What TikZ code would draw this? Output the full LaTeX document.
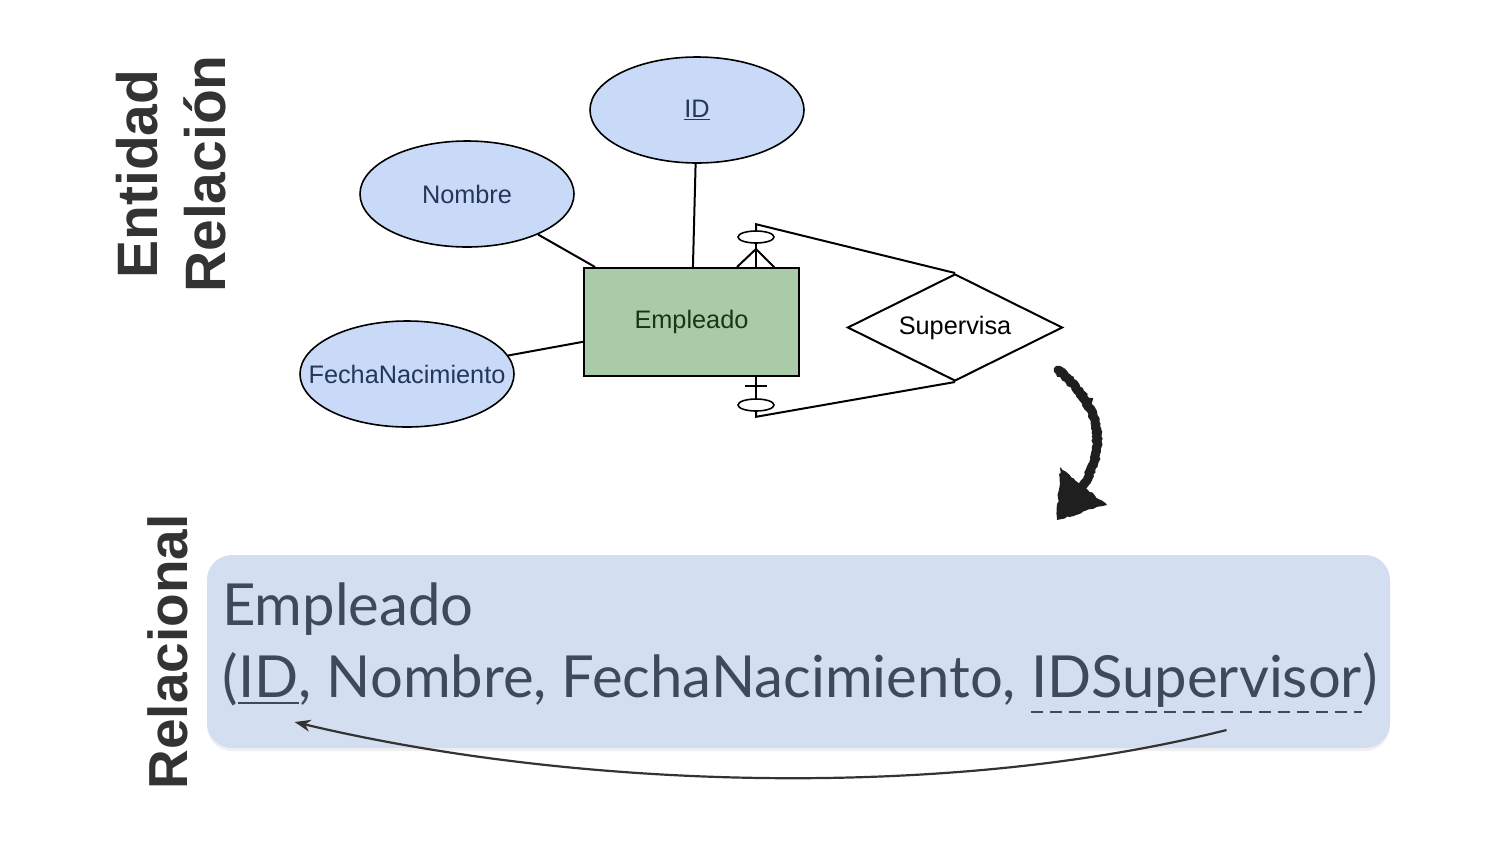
\documentclass[tikz,border=0pt]{standalone}
\usepackage{fontspec}
\setmainfont{Liberation Sans}
\newfontfamily\relfont{Lato}
\usetikzlibrary{positioning,shapes.geometric,arrows.meta,shadows,decorations.pathmorphing}
\definecolor{attrfill}{HTML}{C9DAF8}
\definecolor{attrtext}{HTML}{24365A}
\definecolor{entfill}{HTML}{AACBA7}
\definecolor{enttext}{HTML}{1A351A}
\definecolor{boxfill}{HTML}{D3DEF0}
\definecolor{boxtext}{HTML}{3D4A5C}
\definecolor{titlegray}{HTML}{333333}
\begin{document}
\begin{tikzpicture}[x=1pt,y=-1pt,
  title/.style={rotate=90, text=titlegray, inner sep=0pt, font=\fontsize{57}{60}\selectfont\bfseries},
  attr/.style={ellipse, draw, line width=1.6pt, fill=attrfill, text=attrtext,
    minimum width=214pt, minimum height=106pt, font=\fontsize{25.3}{30}\selectfont},
  opt/.style={ellipse, draw, line width=1.6pt, fill=white, minimum width=36pt,
    minimum height=12pt, inner sep=0pt},
  erline/.style={line width=2pt},
  reltext/.style={text=boxtext, inner sep=0pt, font=\relfont\fontsize{58}{70}\selectfont}]
\useasboundingbox (0,0) rectangle (1493,844);

% titles
\node[title] (er1) at (137,174) {Entidad};
\node[title] (er2) at (205,174) {Relación};
\node[title, font=\fontsize{55}{60}\selectfont\bfseries] (rel) at (168,652) {Relacional};

% diagrama ER
\node[attr] (id) at (697,110) {\underline{ID}};
\node[attr] (nombre) at (467,194) {Nombre};
\node[attr] (fecha) at (407,374) {\makebox[0pt]{FechaNacimiento}};
\node[draw, line width=2pt, fill=entfill, text=enttext, minimum width=215pt,
  minimum height=108pt, font=\fontsize{25.3}{30}\selectfont] (empleado) at (691.5,322) {Empleado};
\node[diamond, draw, line width=2pt, fill=white, aspect=2, inner sep=0pt,
  minimum width=215pt, minimum height=107pt, font=\fontsize{25.3}{30}\selectfont] (supervisa) at (955,327.5) {Supervisa};

\draw[erline] (nombre) -- (empleado);
\draw[erline] (id) -- (empleado);
\draw[erline] (fecha) -- (empleado);

\coordinate (crow) at (756,249);
\coordinate (bar) at (756,386);
\node[opt] (optop) at (756,237) {};
\node[opt] (opbot) at (756,405) {};
\draw[erline] (optop) -- (optop |- empleado.north);
\draw[erline] (optop |- empleado.north) ++(-19,0) -- (crow) -- ++(19,19);
\draw[erline] (optop.north) -- ++(0,-6) -- (supervisa.north);
\draw[erline] (opbot) -- (opbot |- empleado.south);
\draw[erline] ([xshift=-11pt]bar) -- ([xshift=11pt]bar);
\draw[erline] (opbot.south) -- ++(0,5) -- (supervisa.south);

% flecha a mano
\coordinate (hs) at (1058,370);
\coordinate (he) at (1083,486);
\draw[line width=9pt, black!88, line cap=round, decorate,
  decoration={random steps, segment length=2pt, amplitude=1pt}]
  (hs) .. controls (1100,405) and (1108,445) .. (he);
\fill[black!88, decorate, decoration={random steps, segment length=3pt, amplitude=1.2pt}]
  (1060,467) -- (1107,505) -- (1057,520) -- cycle;

% modelo relacional
\node[fill=boxfill, rounded corners=25pt, minimum width=1183pt, minimum height=193pt,
  drop shadow={opacity=0.12, shadow xshift=0pt, shadow yshift=-3pt}] (relbox) at (798.5,651.5) {};
\node[reltext, anchor=base west] (tabla) at (222,625) {Empleado};
\node[reltext, anchor=base west] (abre) at (222,697) {(};
\node[reltext, base right=0pt of abre] (pk) {ID};
\node[reltext, base right=0pt of pk] (resto) {, Nombre, FechaNacimiento,\ \mbox{}};
\node[reltext, base right=0pt of resto] (fk) {IDSupervisor};
\node[reltext, base right=0pt of fk] (cierra) {)};
\draw[boxtext, line width=2pt] ([yshift=-6pt]pk.base west) -- ([yshift=-6pt]pk.base east);
\draw[boxtext, line width=2pt, dash pattern=on 12pt off 7pt]
  ([yshift=-15pt]fk.base west) -- ([yshift=-15pt]fk.base east);
\draw[-{Stealth[length=16pt,width=12pt]}, line width=2.2pt, titlegray]
  ([xshift=30pt,yshift=-33pt]fk.base) .. controls (950,800) and (580,790) .. ([xshift=-4pt,yshift=-25pt]pk.base east);
\end{tikzpicture}
\end{document}
